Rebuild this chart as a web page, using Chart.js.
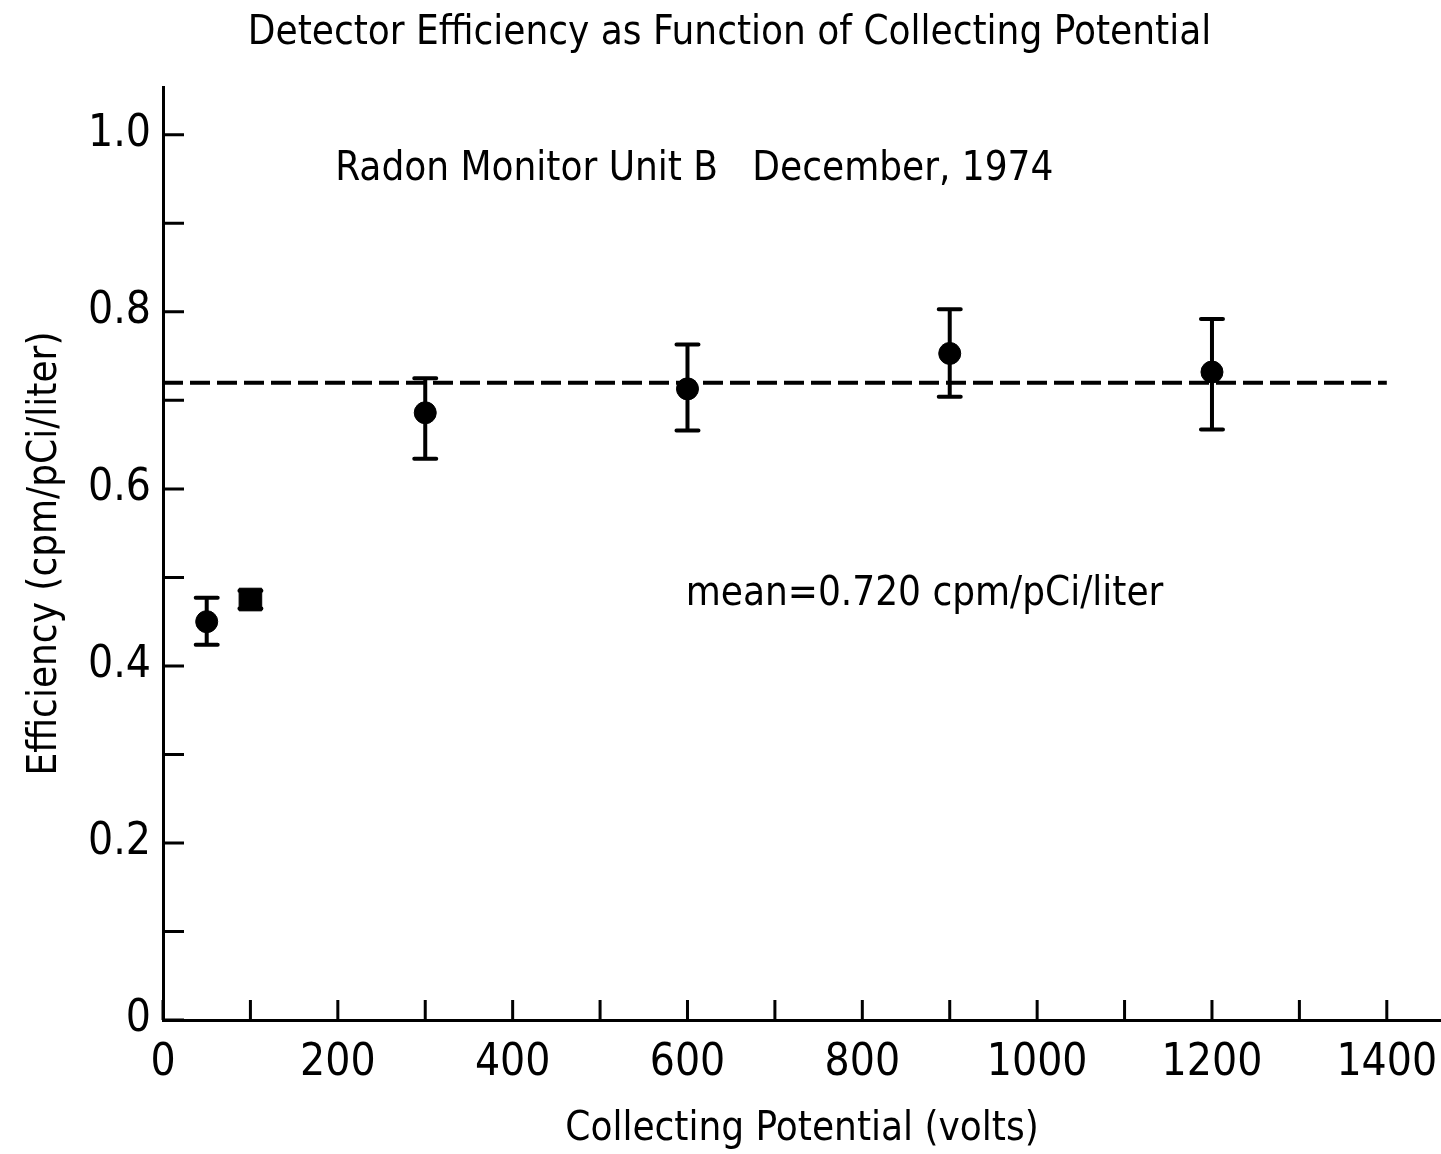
<!DOCTYPE html>
<html>
<head>
<meta charset="utf-8">
<script src="https://cdn.jsdelivr.net/npm/chart.js@4.4.0/dist/chart.umd.min.js"></script>
<style>html,body{margin:0;padding:0;background:#fff}</style>
</head>
<body>
<canvas id="myChart" width="1441" height="1154"></canvas>
<script>
// collecting potential (volts) and measured efficiency
const potential = [50, 100, 300, 600, 900, 1200]
const efficiency = [0.450, 0.475, 0.686, 0.713, 0.753, 0.732]
const errLow = [0.424, 0.465, 0.634, 0.666, 0.704, 0.667]
const errHigh = [0.477, 0.485, 0.725, 0.763, 0.803, 0.792]

const meanX = [0, 1400]
const meanValue = 0.720

const xTicks = [0, 100, 200, 300, 400, 500, 600, 700, 800, 900, 1000, 1100, 1200, 1300, 1400]
const yTicks = [0, 0.1, 0.2, 0.3, 0.4, 0.5, 0.6, 0.7, 0.8, 0.9, 1.0]

const FONT = "'Liberation Sans Narrow', 'DejaVu Sans Condensed', 'Roboto', sans-serif"
Chart.defaults.font.family = FONT
Chart.defaults.color = '#000'

const extras = {
  id: 'extras',
  beforeDatasetsDraw(chart) {
    const ctx = chart.ctx
    const xs = chart.scales.x, ys = chart.scales.y
    ctx.save()
    ctx.strokeStyle = '#000'
    ctx.lineWidth = 4
    ctx.lineCap = 'round'
    for (let i = 0; i < potential.length; i++) {
      const px = xs.getPixelForValue(potential[i])
      const top = ys.getPixelForValue(errHigh[i])
      const bot = ys.getPixelForValue(errLow[i])
      ctx.beginPath()
      ctx.moveTo(px, top); ctx.lineTo(px, bot)
      ctx.moveTo(px - 11, top); ctx.lineTo(px + 11, top)
      ctx.moveTo(px - 11, bot); ctx.lineTo(px + 11, bot)
      ctx.stroke()
    }
    ctx.restore()
  },
  afterDraw(chart) {
    const ctx = chart.ctx
    const xs = chart.scales.x, ys = chart.scales.y
    const x0 = xs.getPixelForValue(0), y0 = ys.getPixelForValue(0)
    ctx.save()
    ctx.strokeStyle = '#000'
    ctx.lineWidth = 3
    ctx.beginPath()
    // inward tick marks
    xTicks.forEach(v => {
      const px = xs.getPixelForValue(v)
      ctx.moveTo(px, y0); ctx.lineTo(px, y0 - 20)
    })
    yTicks.forEach(v => {
      const py = ys.getPixelForValue(v)
      ctx.moveTo(x0, py); ctx.lineTo(x0 + 21, py)
    })
    ctx.stroke()

    ctx.fillStyle = '#000'
    ctx.font = '40px ' + FONT
    ctx.textBaseline = 'middle'
    ctx.textAlign = 'left'
    ctx.fillText('Radon Monitor Unit B   December, 1974', xs.getPixelForValue(197), ys.getPixelForValue(0.961))
    ctx.fillText('mean=0.720 cpm/pCi/liter', xs.getPixelForValue(598), ys.getPixelForValue(0.481))
    ctx.restore()
  }
}

const ctx = document.getElementById('myChart')

new Chart(ctx, {
  type: 'scatter',
  data: {
    datasets: [{
      label: 'Efficiency',
      data: potential.map((x, i) => ({x: x, y: efficiency[i]})),
      backgroundColor: '#000',
      borderColor: '#000',
      pointRadius: c => c.dataIndex === 1 ? 16 : 11,
      pointStyle: c => c.dataIndex === 1 ? 'rect' : 'circle',
      order: 1
    }, {
      type: 'line',
      label: 'mean',
      data: meanX.map(x => ({x: x, y: meanValue})),
      borderColor: '#000',
      borderWidth: 4,
      borderDash: [20, 7],
      pointRadius: 0,
      fill: false,
      order: 2
    }]
  },
  options: {
    responsive: false,
    animation: false,
    layout: {autoPadding: false, padding: {left: 18, right: 0, top: 0, bottom: 0}},
    plugins: {
      legend: {display: false},
      tooltip: {enabled: false},
      title: {
        display: true,
        text: 'Detector Efficiency as Function of Collecting Potential',
        font: {size: 40, weight: 'normal'},
        color: '#000',
        padding: {top: 10, bottom: 29}
      }
    },
    scales: {
      x: {
        type: 'linear',
        min: 0,
        max: 1462,
        afterBuildTicks: s => { s.ticks = xTicks.map(v => ({value: v})) },
        afterFit: s => { s.height = 134 },
        grid: {display: false, drawTicks: false},
        border: {display: true, color: '#000', width: 3},
        ticks: {
          autoSkip: false,
          maxRotation: 0,
          padding: 0,
          font: {size: 44, lineHeight: 2.0},
          callback: v => v % 200 === 0 ? String(v) : ''
        },
        title: {display: true, text: 'Collecting Potential (volts)', font: {size: 40}, padding: 0}
      },
      y: {
        type: 'linear',
        min: 0,
        max: 1.054,
        afterBuildTicks: s => { s.ticks = yTicks.map(v => ({value: v})) },
        afterFit: s => { s.width = 145 },
        grid: {display: false, drawTicks: false},
        border: {display: true, color: '#000', width: 3},
        ticks: {
          autoSkip: false,
          padding: 12,
          font: {size: 44},
          callback: v => {
            const k = Math.round(v * 10)
            if (k % 2 !== 0) return ''
            return k === 0 ? '0' : (k / 10).toFixed(1)
          }
        },
        title: {display: true, text: 'Efficiency (cpm/pCi/liter)', font: {size: 40}}
      }
    }
  },
  plugins: [extras]
})
</script>
</body>
</html>
